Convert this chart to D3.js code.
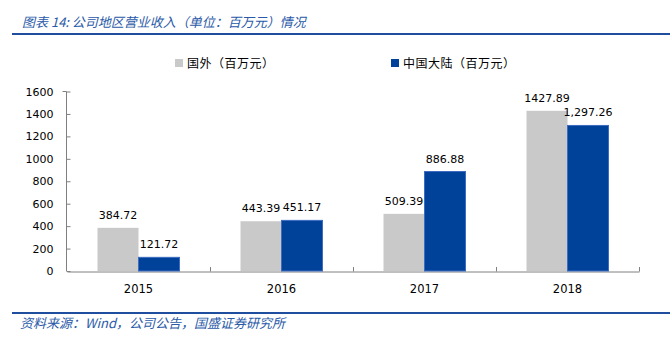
<!DOCTYPE html>
<html><head><meta charset="utf-8">
<script src="https://cdn.jsdelivr.net/npm/d3@7"></script>
<style>
html,body{margin:0;padding:0;background:#fff;}
svg{display:block;}
</style></head>
<body>
<script>
const title = "图表 14:  公司地区营业收入（单位：百万元）情况";
const source = "资料来源：Wind，公司公告，国盛证券研究所";
const categories = ["2015","2016","2017","2018"];
const seriesNames = ["国外（百万元）","中国大陆（百万元）"];
const overseas = [384.72, 443.39, 509.39, 1427.89];
const mainland = [121.72, 451.17, 886.88, 1297.26];
const labelsOverseas = ["384.72","443.39","509.39","1427.89"];
const labelsMainland = ["121.72","451.17","886.88","1,297.26"];
const yTicks = [0,200,400,600,800,1000,1200,1400,1600];
const colors = ["#c9c9c9","#00419a"];

const W = 670, H = 339;
const svg = d3.select("body").append("svg").attr("width",W).attr("height",H);
svg.append("rect").attr("width",W).attr("height",H).attr("fill","#fff");

// Title
svg.append("text").attr("x",22).attr("y",27)
  .attr("font-family","'Noto Sans CJK SC'").attr("font-size",13).attr("font-style","italic")
  .attr("fill","#2a5aa8").text(title);
svg.append("line").attr("x1",12).attr("x2",670).attr("y1",34).attr("y2",34)
  .attr("stroke","#1f4e9e").attr("stroke-width",2);

// Footer
svg.append("line").attr("x1",12).attr("x2",670).attr("y1",313).attr("y2",313)
  .attr("stroke","#1f4e9e").attr("stroke-width",2);
svg.append("text").attr("x",20).attr("y",328)
  .attr("font-family","'Noto Sans CJK SC'").attr("font-size",13).attr("font-style","italic")
  .attr("fill","#2a5aa8").text(source);

// Scales
const x0 = d3.scaleBand().domain(categories).range([67,639]).paddingInner(0).paddingOuter(0);
const y = d3.scaleLinear().domain([0,1600]).range([271,91.5]);
const barW = 41;

const g = svg.append("g");

// Y axis
const yAxis = d3.axisLeft(y).tickValues(yTicks).tickSize(-4).tickPadding(13).tickFormat(d3.format("d"));
const ya = g.append("g").attr("transform","translate(66.5,0)").call(yAxis);
ya.select(".domain").attr("stroke","#808080").attr("d","M-4,91.5H0V271");
ya.selectAll(".tick line").attr("stroke","#808080");
ya.selectAll(".tick text").attr("font-family","'DejaVu Sans'").attr("font-size",11).attr("fill","#000");

// X axis
const xAxis = d3.axisBottom(x0).tickSize(0).tickPadding(13).tickSizeOuter(0);
const xa = g.append("g").attr("transform","translate(0,271.5)").call(xAxis);
xa.select(".domain").attr("stroke","#808080");
xa.selectAll(".tick text").attr("font-family","'DejaVu Sans'").attr("font-size",11.5).attr("fill","#000");
// category boundary ticks (inward)
g.selectAll(".catTick").data(categories).enter().append("line")
  .attr("x1",d=>x0(d)+x0.bandwidth()+0.5).attr("x2",d=>x0(d)+x0.bandwidth()+0.5)
  .attr("y1",267).attr("y2",271.5).attr("stroke","#808080");

// Bars
const data = categories.map((c,i)=>({c, v:[overseas[i],mainland[i]], l:[labelsOverseas[i],labelsMainland[i]]}));
data.forEach(d=>{
  const cx = x0(d.c) + x0.bandwidth()/2;
  [0,1].forEach(s=>{
    const bx = s===0 ? cx - barW : cx;
    g.append("rect").attr("x",bx).attr("y",y(d.v[s])).attr("width",barW)
      .attr("height",y(0)-y(d.v[s]))
      .attr("fill",colors[s])
      .attr("stroke", s===1 ? "#3d6cc0" : "none").attr("stroke-width", s===1?1:0);
    g.append("text").attr("x",bx+barW/2).attr("y",y(d.v[s])-9)
      .attr("text-anchor","middle").attr("font-family","'DejaVu Sans'").attr("font-size",11)
      .attr("fill","#000").text(d.l[s]);
  });
});

// Legend
const legendX = [175, 391];
seriesNames.forEach((n,i)=>{
  svg.append("rect").attr("x",legendX[i]).attr("y",59).attr("width",8).attr("height",8).attr("fill",colors[i]);
  svg.append("text").attr("x",legendX[i]+12).attr("y",67.5)
    .attr("font-family","'Noto Sans CJK SC'").attr("font-size",12).attr("letter-spacing",0.5)
    .attr("fill","#000").text(n);
});
</script>
</body></html>
